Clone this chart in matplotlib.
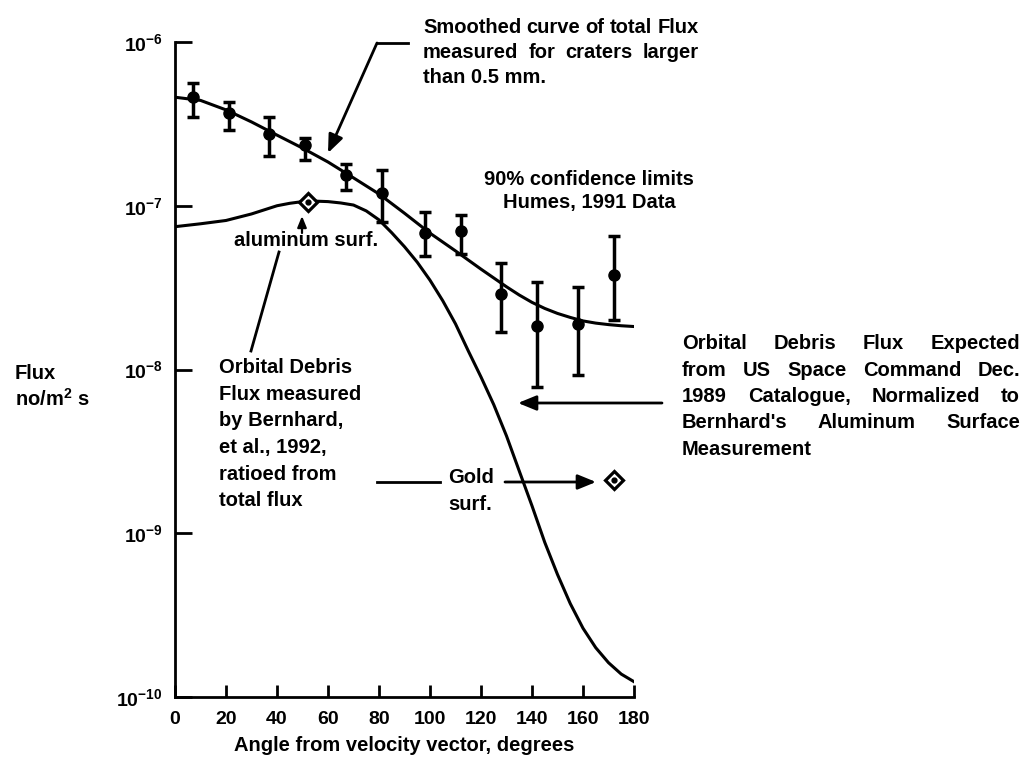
import numpy as np
import matplotlib.pyplot as plt
from matplotlib.lines import Line2D
from matplotlib.patches import FancyArrowPatch

plt.rcParams['font.family'] = ['Liberation Sans', 'DejaVu Sans']
plt.rcParams['font.weight'] = 'bold'
plt.rcParams['mathtext.default'] = 'regular'

W, H = 1024, 762

# Humes 1991 data, 90% confidence limits
angle = np.array([7, 21, 37, 51, 67, 81, 98, 112, 128, 142, 158, 172])
flux = np.array([4.6e-7, 3.7e-7, 2.75e-7, 2.35e-7, 1.55e-7, 1.2e-7,
                 6.8e-8, 7.0e-8, 2.9e-8, 1.85e-8, 1.9e-8, 3.8e-8])
flux_low = np.array([3.5e-7, 2.9e-7, 2.0e-7, 1.9e-7, 1.25e-7, 8.0e-8,
                     4.9e-8, 5.1e-8, 1.7e-8, 7.8e-9, 9.3e-9, 2.0e-8])
flux_high = np.array([5.6e-7, 4.3e-7, 3.5e-7, 2.6e-7, 1.8e-7, 1.65e-7,
                      9.1e-8, 8.8e-8, 4.5e-8, 3.4e-8, 3.2e-8, 6.5e-8])

# smoothed curve of total flux
total_deg = [0, 10, 20, 30, 40, 50, 60, 70, 80, 90, 100, 110, 120, 130,
             135, 140, 145, 150, 155, 160, 165, 170, 175, 180]
total_flux = [4.6e-7, 4.4e-7, 3.85e-7, 3.25e-7, 2.7e-7, 2.25e-7, 1.85e-7,
              1.48e-7, 1.18e-7, 9.0e-8, 6.8e-8, 5.3e-8, 4.1e-8, 3.2e-8,
              2.85e-8, 2.57e-8, 2.36e-8, 2.2e-8, 2.08e-8, 1.98e-8, 1.92e-8,
              1.88e-8, 1.85e-8, 1.83e-8]

# orbital debris flux expected (US Space Command 1989 catalogue)
debris_deg = [0, 10, 20, 30, 40, 45, 50, 55, 60, 65, 70, 75, 80, 85, 90,
              95, 100, 105, 110, 115, 120, 125, 130, 135, 140, 145, 150,
              155, 160, 165, 170, 175, 180]
debris_flux = [7.45e-8, 7.76e-8, 8.13e-8, 8.91e-8, 1.0e-7, 1.035e-7,
               1.06e-7, 1.067e-7, 1.06e-7, 1.04e-7, 1.01e-7, 9.3e-8, 8.2e-8,
               6.84e-8, 5.62e-8, 4.52e-8, 3.51e-8, 2.63e-8, 1.9e-8, 1.3e-8,
               9.0e-9, 6.1e-9, 3.93e-9, 2.4e-9, 1.47e-9, 8.8e-10, 5.6e-10,
               3.72e-10, 2.63e-10, 2.0e-10, 1.62e-10, 1.38e-10, 1.24e-10]

# Bernhard et al. measurements (aluminum, gold)
surf_deg = [52, 172]
surf_flux = [1.06e-7, 2.1e-9]


def P(x, y):
    return (x / W, 1 - y / H)


fig = plt.figure(figsize=(W / 100, H / 100), dpi=100)
ax = fig.add_axes([175 / W, 1 - 697 / H, 459 / W, 655 / H])

ax.plot(total_deg, total_flux, color='black', lw=2.2)
ax.plot(debris_deg, debris_flux, color='black', lw=2.2)
ax.errorbar(angle, flux, yerr=[flux - flux_low, flux_high - flux], fmt='o',
            color='black', ms=8, elinewidth=2.5, capsize=4, capthick=2.5)
ax.plot(surf_deg, surf_flux, ls='none', marker='D', ms=9, mfc='white',
        mec='black', mew=2.3)
ax.plot(surf_deg, surf_flux, ls='none', marker='o', ms=3.5, color='black')

ax.set_yscale('log')
ax.set_xlim(0, 180)
ax.set_ylim(1e-10, 1e-6)
ax.set_xticks(range(0, 181, 20))
ax.set_yticks([1e-10, 1e-9, 1e-8, 1e-7, 1e-6])
ax.minorticks_off()
for s in ['top', 'right']:
    ax.spines[s].set_visible(False)
for s in ['left', 'bottom']:
    ax.spines[s].set_linewidth(2)
ax.tick_params(axis='both', direction='in', width=2, labelsize=14)
ax.tick_params(axis='y', length=12, pad=9)
ax.tick_params(axis='x', length=9, pad=10)
ax.set_xlabel('Angle from velocity vector, degrees', fontsize=14.5,
              fontweight='bold', labelpad=6)

FS = 14.5
renderer = fig.canvas.get_renderer()


def text_lines(lines, x, y0, dy, ha='left'):
    for i, line in enumerate(lines):
        fig.text(*P(x, y0 + i * dy), line, fontsize=FS, ha=ha,
                 va='baseline')


def justified(lines, x0, x1, y0, dy):
    for i, line in enumerate(lines):
        y = y0 + i * dy
        words = line.split()
        if i == len(lines) - 1 or len(words) == 1:
            fig.text(*P(x0, y), line, fontsize=FS, va='baseline')
            continue
        texts = [fig.text(0, 0, w, fontsize=FS, va='baseline') for w in words]
        widths = [t.get_window_extent(renderer).width for t in texts]
        gap = (x1 - x0 - sum(widths)) / (len(words) - 1)
        x = x0
        for t, w in zip(texts, widths):
            t.set_position(P(x, y))
            x += w + gap


text_lines(['Flux', 'no/m$^2$ s'], 15, 379, 27)
justified(['Smoothed curve of total Flux', 'measured for craters larger',
           'than 0.5 mm.'], 423, 699, 33, 25)
justified(['Orbital Debris Flux Expected', 'from US Space Command Dec.',
           '1989 Catalogue, Normalized to', "Bernhard's Aluminum Surface",
           'Measurement'], 682, 1020, 349, 26.5)
text_lines(['90% confidence limits', 'Humes, 1991 Data'], 589, 185, 23,
           ha='center')
text_lines(['Orbital Debris', 'Flux measured', 'by Bernhard,',
            'et al., 1992,', 'ratioed from', 'total flux'], 219, 373, 26.7)
text_lines(['aluminum surf.'], 306, 246, 0, ha='center')
text_lines(['Gold', 'surf.'], 448, 483, 27)


def seg(x0, y0, x1, y1):
    fig.add_artist(Line2D([x0 / W, x1 / W], [1 - y0 / H, 1 - y1 / H],
                          transform=fig.transFigure, color='black', lw=2))


def arrow(x0, y0, x1, y1, size=10, lw=2):
    fig.add_artist(FancyArrowPatch(
        P(x0, y0), P(x1, y1), transform=fig.transFigure,
        arrowstyle='-|>,head_length=1.1,head_width=0.45', mutation_scale=size,
        color='black', lw=lw, shrinkA=0, shrinkB=0))


seg(408, 43, 377, 43)
arrow(377, 43, 328, 153)
arrow(302, 233, 302, 216, size=6, lw=1.6)
seg(251, 351, 279, 252)
seg(377, 482, 440, 482)
arrow(505, 482, 596, 482)
arrow(662, 403, 518, 403)

fig.savefig('out.png', dpi=100)
